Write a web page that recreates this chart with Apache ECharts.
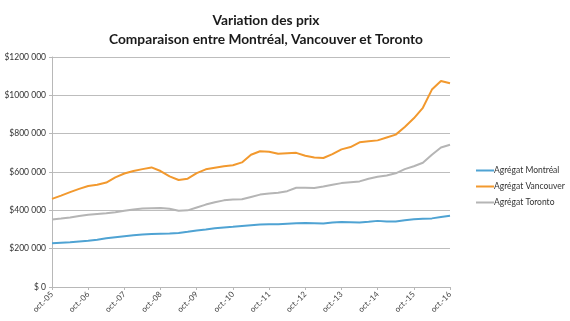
<!DOCTYPE html>
<html><head><meta charset="utf-8">
<script src="https://cdn.jsdelivr.net/npm/echarts@6/dist/echarts.min.js"></script>
<style>html,body{margin:0;padding:0;background:#fff}#c{width:570px;height:321px}</style>
</head><body><div id="c"></div>
<script>
// Quarterly categories, oct-05 .. oct-16
const months = ["oct.", "janv.", "avr.", "juil."];
const categories = [];
for (let y = 5; y <= 16; y++) {
  for (let q = 0; q < 4; q++) {
    if (q === 0) categories.push("oct.-" + String(y).padStart(2, "0"));
    else if (y < 16) categories.push(months[q] + "-" + String(y + 1).padStart(2, "0"));
  }
}
// Values in thousands of dollars
const montreal = [228,231,234,238,241,247,254,260,265,270,274,277,278,279,282,288,295,300,306,311,314,318,322,326,328,327,330,333,334,333,331,336,339,338,336,340,345,342,342,348,353,356,358,365,372];
const vancouver = [460,477,495,512,527,533,545,572,592,605,615,624,605,577,558,565,594,614,622,630,635,650,690,708,706,695,698,700,685,676,673,693,718,730,755,760,765,780,795,835,880,935,1030,1075,1063];
const toronto = [352,357,363,370,377,381,385,390,398,404,409,411,412,408,398,400,415,430,442,452,456,458,470,482,488,492,500,518,518,516,524,533,542,547,551,565,575,582,593,615,630,648,690,728,742];
const seriesNames = ["Agrégat Montréal", "Agrégat Vancouver", "Agrégat Toronto"];
const titleLines = ["Variation des prix", "Comparaison entre Montréal, Vancouver et Toronto"];

const k = a => a.map(v => v * 1000);
const chart = echarts.init(document.getElementById('c'), null, {renderer: 'canvas'});
const font = 'Lato, "Open Sans", sans-serif';
chart.setOption({
  animation: false,
  title: {
    text: titleLines.join('\n'),
    left: 261, top: 6, textAlign: 'center',
    textStyle: {fontFamily: font, fontWeight: 'bold', fontSize: 13.75, color: '#1a1a1a', lineHeight: 19}
  },
  legend: {
    orient: 'vertical', left: 471, top: 161, itemGap: 7,
    itemWidth: 18, itemHeight: 2, icon: 'rect',
    textStyle: {fontFamily: font, fontSize: 8.5, color: '#333', padding: [0,0,0,-5]},
    data: seriesNames
  },
  grid: {left: 52, right: 120, top: 57, bottom: 34, containLabel: false},
  xAxis: {
    type: 'category', data: categories, boundaryGap: false,
    axisLine: {lineStyle: {color: '#b8b8b8', width: 1}},
    axisTick: {interval: 3, length: 3, lineStyle: {color: '#b8b8b8'}},
    axisLabel: {interval: 3, rotate: 45, fontFamily: font, fontSize: 8, color: '#444', margin: 6}
  },
  yAxis: {
    type: 'value', min: 0, max: 1200000, interval: 200000,
    axisLine: {show: true, lineStyle: {color: '#b8b8b8'}},
    axisTick: {show: true, length: 3, lineStyle: {color: '#b8b8b8'}},
    splitLine: {lineStyle: {color: '#bdbdbd', width: 1}},
    axisLabel: {
      fontFamily: font, fontSize: 8.5, color: '#333', margin: 6,
      formatter: v => v === 0 ? '$ 0' : '$' + (v / 1000) + ' 000'
    }
  },
  series: [
    {name: seriesNames[0], type: 'line', data: k(montreal), showSymbol: false, lineStyle: {color: '#4fa3d3', width: 2}, itemStyle: {color: '#4fa3d3'}},
    {name: seriesNames[1], type: 'line', data: k(vancouver), showSymbol: false, lineStyle: {color: '#f2992e', width: 2}, itemStyle: {color: '#f2992e'}},
    {name: seriesNames[2], type: 'line', data: k(toronto), showSymbol: false, lineStyle: {color: '#b5b5b5', width: 2}, itemStyle: {color: '#b5b5b5'}}
  ]
});
</script></body></html>
